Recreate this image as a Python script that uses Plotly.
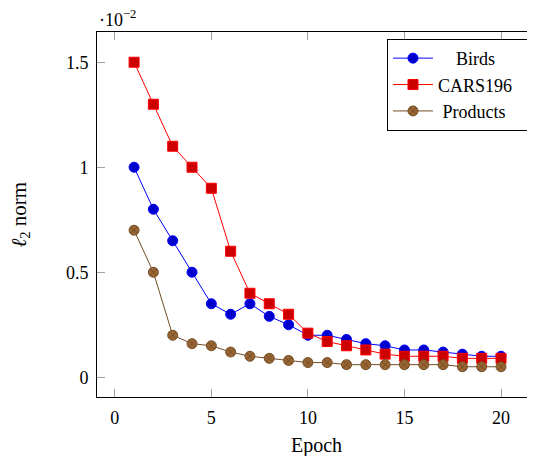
import plotly.graph_objects as go

# ---- data ----
epochs = list(range(1, 21))
birds = [0.0100, 0.0080, 0.0065, 0.0050, 0.0035, 0.0030, 0.0035, 0.0029, 0.0025, 0.0020,
         0.0020, 0.0018, 0.0016, 0.0015, 0.0013, 0.0013, 0.0012, 0.0011, 0.0010, 0.0010]
cars196 = [0.0150, 0.0130, 0.0110, 0.0100, 0.0090, 0.0060, 0.0040, 0.0035, 0.0030, 0.0021,
           0.0017, 0.0015, 0.0013, 0.0011, 0.0010, 0.0010, 0.0010, 0.0009, 0.0009, 0.0009]
products = [0.0070, 0.0050, 0.0020, 0.0016, 0.0015, 0.0012, 0.0010, 0.0009, 0.0008, 0.0007,
            0.0007, 0.0006, 0.0006, 0.0006, 0.0006, 0.0006, 0.0006, 0.0005, 0.0005, 0.0005]
series_names = ["Birds", "CARS196", "Products"]
x_ticks = [0, 5, 10, 15, 20]
y_ticks = [0, 0.5, 1, 1.5]
y_tick_labels = ["0", "0.5", "1", "1.5"]
scale = 1e-2

FONT = "Liberation Serif"
NB = "\u00a0"
ZW = "\u200b"
# pad legend labels so that they appear centred like the original legend
legend_labels = [NB * 4 + series_names[0],
                 series_names[1] + NB * 2 + ZW,
                 NB + series_names[2]]

fig = go.Figure()

styles = [
    dict(line_color="rgb(0,0,255)", fill="rgb(0,0,204)", mline="rgb(0,0,255)", symbol="circle", size=10),
    dict(line_color="rgb(255,0,0)", fill="rgb(204,0,0)", mline="rgb(255,0,0)", symbol="square", size=10),
    dict(line_color="rgb(115,77,38)", fill="rgb(153,102,51)", mline="rgb(115,77,38)", symbol="circle-x", size=10),
]
for name, vals, st in zip(legend_labels, [birds, cars196, products], styles):
    fig.add_trace(go.Scatter(
        x=epochs, y=[v / scale for v in vals], name=name, mode="lines+markers",
        line=dict(color=st["line_color"], width=1),
        marker=dict(symbol=st["symbol"], size=st["size"], color=st["fill"],
                    line=dict(color=st["mline"], width=1)),
    ))

# the page body has an 8px margin, so the figure is 8px smaller and offset
fig.update_layout(
    width=527, height=448,
    margin=dict(l=89, r=0, t=24, b=59),
    paper_bgcolor="white", plot_bgcolor="white",
    font=dict(family=FONT, size=18, color="black"),
    showlegend=True,
    legend=dict(x=0.984, xanchor="right", y=0.981, yanchor="top",
                bordercolor="black", borderwidth=1, bgcolor="white", itemwidth=40,
                font=dict(family=FONT, size=18), tracegroupgap=0),
    xaxis=dict(range=[-0.92, 21.76], tickvals=x_ticks, ticks="inside", ticklen=8,
               tickcolor="#a0a0a0", tickwidth=1, showline=True, linecolor="black",
               linewidth=1, mirror="ticks", showgrid=False, zeroline=False,
               ticklabelstandoff=4, tickfont=dict(size=18)),
    yaxis=dict(range=[-0.094, 1.644], tickvals=y_ticks, ticktext=y_tick_labels,
               ticks="inside", ticklen=8, tickcolor="#a0a0a0", tickwidth=1,
               showline=True, linecolor="black", linewidth=1, mirror=False,
               showgrid=False, zeroline=False, ticklabelstandoff=4,
               tickfont=dict(size=18)),
    yaxis2=dict(range=[-0.094, 1.644], overlaying="y", side="right",
                tickvals=y_ticks, ticks="inside", ticklen=8, tickcolor="#a0a0a0",
                tickwidth=1, showticklabels=False, showline=False, showgrid=False,
                zeroline=False),
)

fig.add_annotation(text="·10<sup>−2</sup>", xref="paper", yref="paper", x=0, y=1,
                   xanchor="left", yanchor="bottom", yshift=0, showarrow=False,
                   font=dict(family=FONT, size=18))
fig.add_annotation(text="<i>ℓ</i><sub>2</sub> norm", xref="paper", yref="paper",
                   x=0, y=0.5, xshift=-78, textangle=-90, xanchor="center",
                   yanchor="middle", showarrow=False, font=dict(family=FONT, size=21))
fig.add_annotation(text="Epoch", xref="paper", yref="paper", x=0.5, y=0,
                   yshift=-48, xanchor="center", yanchor="middle", showarrow=False,
                   font=dict(family=FONT, size=20))

fig.write_html("out.html")
